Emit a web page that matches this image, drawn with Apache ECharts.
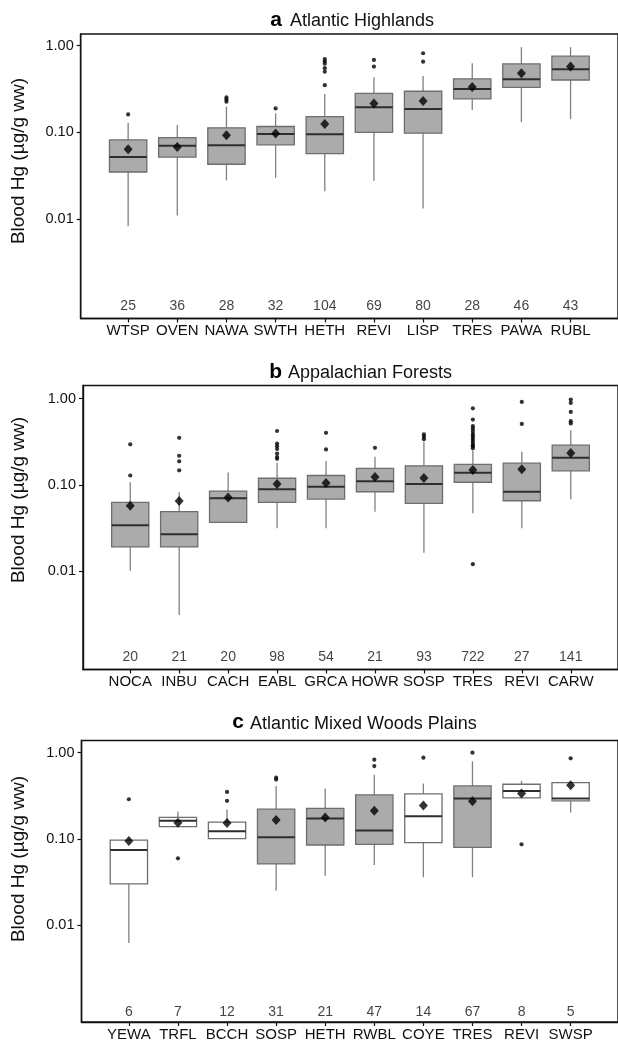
<!DOCTYPE html>
<html>
<head>
<meta charset="utf-8">
<script src="https://cdn.jsdelivr.net/npm/echarts@6/dist/echarts.min.js"></script>
<style>
  html, body { margin: 0; padding: 0; background: #fff; }
  #chart { width: 618px; height: 1042px; }
</style>
</head>
<body>
<div id="chart"></div>
<script>
// species codes, sample sizes, box stats [lower whisker, Q1, median, Q3, upper whisker] in ug/g ww,
// means and outliers
const speciesA = ['WTSP', 'OVEN', 'NAWA', 'SWTH', 'HETH', 'REVI', 'LISP', 'TRES', 'PAWA', 'RUBL']
const countsA = [25, 36, 28, 32, 104, 69, 80, 28, 46, 43]
const statsA = [
  [0.0083, 0.035, 0.052, 0.082, 0.129],
  [0.011, 0.052, 0.070, 0.087, 0.122],
  [0.028, 0.043, 0.071, 0.113, 0.198],
  [0.030, 0.072, 0.096, 0.117, 0.166],
  [0.021, 0.057, 0.095, 0.152, 0.277],
  [0.0277, 0.100, 0.195, 0.282, 0.432],
  [0.0133, 0.098, 0.186, 0.298, 0.447],
  [0.181, 0.243, 0.316, 0.413, 0.626],
  [0.131, 0.331, 0.409, 0.615, 0.96],
  [0.143, 0.402, 0.533, 0.755, 0.96],
]
const meansA = [0.064, 0.068, 0.093, 0.097, 0.125, 0.216, 0.230, 0.334, 0.48, 0.573]
const outliersA = [
  [0.161], [], [0.226, 0.240, 0.253], [0.189], [0.35, 0.50, 0.55, 0.62, 0.66, 0.70],
  [0.573, 0.684], [0.653, 0.817], [], [], [],
]

const speciesB = ['NOCA', 'INBU', 'CACH', 'EABL', 'GRCA', 'HOWR', 'SOSP', 'TRES', 'REVI', 'CARW']
const countsB = [20, 21, 20, 98, 54, 21, 93, 722, 27, 141]
const statsB = [
  [0.0101, 0.019, 0.034, 0.0625, 0.107],
  [0.0031, 0.019, 0.0267, 0.0487, 0.0817],
  [0.0367, 0.0367, 0.0696, 0.0845, 0.139],
  [0.0313, 0.0625, 0.0885, 0.119, 0.18],
  [0.0313, 0.0683, 0.095, 0.128, 0.188],
  [0.0487, 0.083, 0.110, 0.155, 0.211],
  [0.0163, 0.061, 0.102, 0.166, 0.315],
  [0.0467, 0.107, 0.138, 0.172, 0.252],
  [0.0313, 0.0653, 0.083, 0.178, 0.241],
  [0.068, 0.145, 0.206, 0.288, 0.43],
]
const meansB = [0.057, 0.065, 0.0714, 0.102, 0.105, 0.123, 0.12, 0.148, 0.151, 0.233]
const outliersB = [
  [0.128, 0.294],
  [0.147, 0.187, 0.217, 0.35],
  [],
  [0.20, 0.21, 0.23, 0.26, 0.28, 0.30, 0.42],
  [0.257, 0.40],
  [0.268],
  [0.338, 0.36, 0.383],
  [0.012, 0.265, 0.28, 0.29, 0.31, 0.33, 0.35, 0.37, 0.39, 0.42, 0.45, 0.48, 0.57, 0.77],
  [0.508, 0.914],
  [0.514, 0.546, 0.70, 0.889, 0.973],
]

const speciesC = ['YEWA', 'TRFL', 'BCCH', 'SOSP', 'HETH', 'RWBL', 'COYE', 'TRES', 'REVI', 'SWSP']
const countsC = [6, 7, 12, 31, 21, 47, 14, 67, 8, 5]
const statsC = [
  [0.00627, 0.0303, 0.0747, 0.0973, 0.0973],
  [0.139, 0.139, 0.163, 0.178, 0.209],
  [0.101, 0.101, 0.123, 0.157, 0.22],
  [0.0253, 0.0515, 0.105, 0.222, 0.412],
  [0.0377, 0.0853, 0.173, 0.226, 0.384],
  [0.0501, 0.0869, 0.126, 0.324, 0.557],
  [0.0361, 0.0907, 0.184, 0.333, 0.439],
  [0.0361, 0.0802, 0.295, 0.412, 0.794],
  [0.299, 0.299, 0.361, 0.431, 0.471],
  [0.203, 0.277, 0.295, 0.451, 0.451],
]
const meansC = [0.0948, 0.154, 0.153, 0.166, 0.178, 0.212, 0.245, 0.274, 0.337, 0.42]
const outliersC = [
  [0.289], [0.0599], [0.277, 0.351], [0.488, 0.515], [], [0.70, 0.83], [0.875], [1.0], [0.0869], [0.86],
]

const yTicks = [0.01, 0.1, 1]
const countLabelY = 0.001

const FONT = '"Liberation Sans", Arial, Helvetica, sans-serif'
const TEXT = '#111'
const BOX_W = 0.76

const panels = [
  { letter: 'a', title: 'Atlantic Highlands', species: speciesA, counts: countsA, stats: statsA, means: meansA, outliers: outliersA,
    left: 80.7, top: 34, height: 284.5, yMin: -3.144, yMax: 0.134, letterX: 282, titleX: 290, baseline: 27.3, yTitle: 161 },
  { letter: 'b', title: 'Appalachian Forests', species: speciesB, counts: countsB, stats: statsB, means: meansB, outliers: outliersB,
    left: 83, top: 385.5, height: 284, yMin: -3.142, yMax: 0.151, letterX: 282, titleX: 288, baseline: 379.3, yTitle: 500 },
  { letter: 'c', title: 'Atlantic Mixed Woods Plains', species: speciesC, counts: countsC, stats: statsC, means: meansC, outliers: outliersC,
    left: 81.5, top: 740.5, height: 282, yMin: -3.118, yMax: 0.141, letterX: 244, titleX: 250, baseline: 730, yTitle: 859 },
]

const lg = (v) => Math.log10(v)

const renderBox = (params, api) => {
  const x = api.value(0)
  const lo = api.coord([x, api.value(1)])
  const q1 = api.coord([x, api.value(2)])
  const med = api.coord([x, api.value(3)])
  const q3 = api.coord([x, api.value(4)])
  const hi = api.coord([x, api.value(5)])
  const half = api.size([BOX_W, 0])[0] / 2
  const cx = lo[0]
  const fill = api.value(6) < 15 ? '#ffffff' : '#ababab'
  const whisker = { stroke: '#808080', lineWidth: 1.3 }
  return {
    type: 'group',
    children: [
      { type: 'line', shape: { x1: cx, y1: hi[1], x2: cx, y2: q3[1] }, style: whisker },
      { type: 'line', shape: { x1: cx, y1: q1[1], x2: cx, y2: lo[1] }, style: whisker },
      { type: 'rect', shape: { x: cx - half, y: q3[1], width: half * 2, height: q1[1] - q3[1] },
        style: { fill, stroke: '#6e6e6e', lineWidth: 1.3 } },
      { type: 'line', shape: { x1: cx - half, y1: med[1], x2: cx + half, y2: med[1] },
        style: { stroke: '#2e2e2e', lineWidth: 2 } },
    ],
  }
}

const grid = []
const xAxis = []
const yAxis = []
const series = []
const graphic = []

panels.forEach((p, i) => {
  grid.push({
    left: p.left, top: p.top, width: 547, height: p.height,
    show: true, borderColor: '#111', borderWidth: 1.4, backgroundColor: 'transparent',
  })
  const xs = p.species.map((_, k) => k + 1)
  xAxis.push({
    type: 'value', gridIndex: i, min: 0.035, max: 10.965,
    axisLine: { show: true, onZero: false, lineStyle: { color: '#111', width: 1.4 } },
    axisTick: { show: true, customValues: xs, length: 4, lineStyle: { color: '#111', width: 1.2 } },
    axisLabel: {
      customValues: xs, margin: 5, fontSize: 15, color: TEXT, fontFamily: FONT,
      formatter: (v) => p.species[Math.round(v) - 1] || '',
    },
    splitLine: { show: false },
  })
  yAxis.push({
    type: 'value', gridIndex: i, min: p.yMin, max: p.yMax,
    axisLine: { show: true, onZero: false, lineStyle: { color: '#111', width: 1.4 } },
    axisTick: { show: true, customValues: yTicks.map(lg), length: 4, lineStyle: { color: '#111', width: 1.2 } },
    axisLabel: {
      customValues: yTicks.map(lg), margin: 7, fontSize: 14.5, color: TEXT, fontFamily: FONT,
      formatter: (v) => Math.pow(10, v).toFixed(2),
    },
    splitLine: { show: false },
  })

  series.push({
    type: 'custom', xAxisIndex: i, yAxisIndex: i,
    renderItem: renderBox,
    data: p.stats.map((s, k) => [k + 1, ...s.map(lg), p.counts[k]]),
    z: 2,
  })
  series.push({
    type: 'scatter', xAxisIndex: i, yAxisIndex: i,
    symbol: 'circle', symbolSize: 4.2,
    itemStyle: { color: '#000' },
    data: p.outliers.flatMap((arr, k) => arr.map((v) => [k + 1, lg(v)])),
    z: 3,
  })
  series.push({
    type: 'scatter', xAxisIndex: i, yAxisIndex: i,
    symbol: 'diamond', symbolSize: [9, 10],
    itemStyle: { color: '#000' },
    data: p.means.map((v, k) => [k + 1, lg(v)]),
    z: 4,
  })
  series.push({
    type: 'scatter', xAxisIndex: i, yAxisIndex: i,
    symbolSize: 1, itemStyle: { color: 'rgba(0,0,0,0)' },
    label: {
      show: true, position: 'inside', fontSize: 14, color: TEXT, fontFamily: FONT,
      formatter: (d) => String(d.value[2]),
    },
    data: p.counts.map((n, k) => [k + 1, lg(countLabelY), n]),
    z: 5,
  })

  graphic.push({
    type: 'text', x: p.letterX, y: p.baseline - 7.3,
    style: { text: p.letter, font: `bold 21px ${FONT}`, fill: '#000', align: 'right', verticalAlign: 'middle' },
  })
  graphic.push({
    type: 'text', x: p.titleX, y: p.baseline - 6.2,
    style: { text: p.title, font: `18px ${FONT}`, fill: '#111', align: 'left', verticalAlign: 'middle' },
  })
  graphic.push({
    type: 'text', x: 19, y: p.yTitle, rotation: Math.PI / 2,
    style: { text: 'Blood Hg (µg/g ww)', font: `19px ${FONT}`, fill: '#111', align: 'center', verticalAlign: 'middle' },
  })
})

const chart = echarts.init(document.getElementById('chart'), null, { renderer: 'canvas' })
chart.setOption({
  animation: false,
  backgroundColor: '#fff',
  grid, xAxis, yAxis, series,
  graphic: { elements: graphic },
})
</script>
</body>
</html>
